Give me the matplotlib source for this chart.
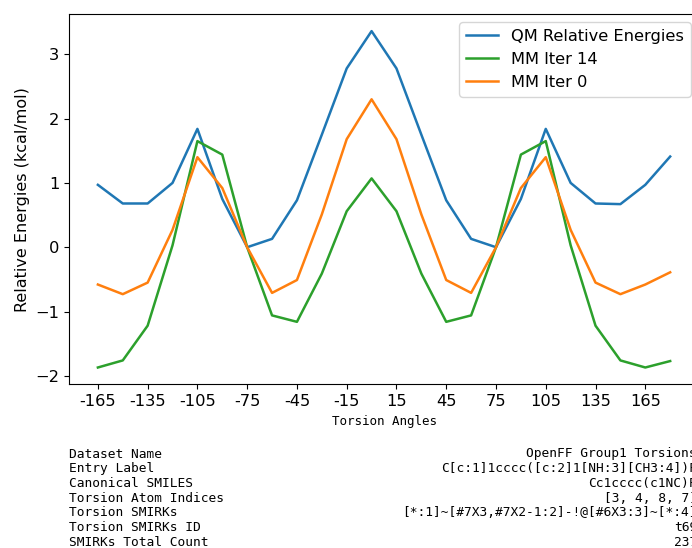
import matplotlib
matplotlib.use("Agg")
import matplotlib.pyplot as plt
import numpy as np

angles = list(range(-165, 181, 15))

qm_energies = [0.97, 0.68, 0.68, 1.00, 1.84, 0.75, 0.00, 0.13, 0.73, 1.75, 2.78, 3.36,
               2.78, 1.75, 0.73, 0.13, 0.00, 0.75, 1.84, 1.00, 0.68, 0.67, 0.97, 1.41]
mm_iter14 = [-1.87, -1.76, -1.22, 0.03, 1.65, 1.44, 0.00, -1.06, -1.16, -0.41, 0.56, 1.07,
             0.56, -0.41, -1.16, -1.06, 0.00, 1.44, 1.65, 0.03, -1.22, -1.76, -1.87, -1.77]
mm_iter0 = [-0.58, -0.73, -0.55, 0.27, 1.40, 0.92, 0.00, -0.71, -0.51, 0.51, 1.68, 2.30,
            1.68, 0.51, -0.51, -0.71, 0.00, 0.92, 1.40, 0.27, -0.55, -0.73, -0.58, -0.39]

tick_angles = list(range(-165, 180, 30))

info_keys = ["Dataset Name", "Entry Label", "Canonical SMILES", "Torsion Atom Indices",
             "Torsion SMIRKs", "Torsion SMIRKs ID", "SMIRKs Total Count"]
info_values = ["OpenFF Group1 Torsions", "C[c:1]1cccc([c:2]1[NH:3][CH3:4])F",
               "Cc1cccc(c1NC)F", "[3, 4, 8, 7]",
               "[*:1]~[#7X3,#7X2-1:2]-!@[#6X3:3]~[*:4]", "t69", "237"]

fig = plt.figure(figsize=(6.92, 5.48), dpi=100)
ax = fig.add_axes([0.1001, 0.2987, 0.9097, 0.6752])

ax.plot(angles, qm_energies, color="C0", lw=1.8, label="QM Relative Energies")
ax.plot(angles, mm_iter14, color="C2", lw=1.8, label="MM Iter 14")
ax.plot(angles, mm_iter0, color="C1", lw=1.8, label="MM Iter 0")

ax.set_xticks(tick_angles)
ax.set_xticklabels([str(t) for t in tick_angles])
ax.tick_params(labelsize=11.7)
ax.set_ylabel("Relative Energies (kcal/mol)", fontsize=11.5)
ax.set_xlabel("Torsion Angles", family="DejaVu Sans Mono", fontsize=9)
ax.legend(loc="upper right", fontsize=11.7)

# info table under the plot, clipped at the right edge like the source image
y0 = 1 - 454 / 548
dy = 14.67 / 548
for i, (k, v) in enumerate(zip(info_keys, info_values)):
    fig.text(69 / 692, y0 - i * dy, k, family="DejaVu Sans Mono", fontsize=9.3, va="center")
    fig.text(697 / 692, y0 - i * dy, v, family="DejaVu Sans Mono", fontsize=9.3,
             va="center", ha="right")

fig.savefig("out.png", dpi=100)
